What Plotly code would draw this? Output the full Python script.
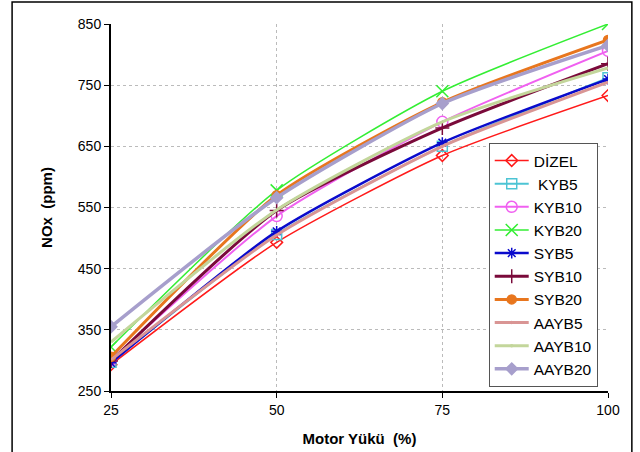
import plotly.graph_objects as go

loads = [25, 50, 75, 100]
series_names = ["DİZEL", " KYB5", "KYB10", "KYB20", "SYB5", "SYB10", "SYB20", "AAYB5", "AAYB10", "AAYB20"]
dizel = [293, 493, 635, 733]
kyb5 = [297, 506, 650, 762]
kyb10 = [301, 536, 690, 806]
kyb20 = [322, 578, 740, 850]
syb5 = [296, 511, 656, 760]
syb10 = [299, 545, 680, 785]
syb20 = [306, 570, 722, 824]
aayb5 = [301, 505, 650, 755]
aayb10 = [330, 546, 690, 778]
aayb20 = [355, 566, 720, 815]
values = [dizel, kyb5, kyb10, kyb20, syb5, syb10, syb20, aayb5, aayb10, aayb20]

colors = ["#ff1a1a", "#4cc4d4", "#f060f0", "#33ee33", "#0a0acc", "#7a0a3a", "#e8761e", "#d99594", "#c3d69b", "#a79fcc"]
symbols = ["diamond-open", "square-open", "circle-open", "x-thin-open", "asterisk-open",
           "cross-thin-open", "circle", "circle", "circle", "diamond"]
msizes = [9, 10, 11, 12, 9, 10, 9, 0.1, 0.1, 9]
widths = [1.5, 2, 2, 1.5, 2.5, 3, 3, 3, 3, 3.5]

fig = go.Figure()
for name, v, c, s, ms, w in zip(series_names, values, colors, symbols, msizes, widths):
    fig.add_trace(go.Scatter(
        x=loads, y=v, name=name, mode="lines+markers",
        line=dict(color=c, width=w, shape="spline", smoothing=0.6),
        marker=dict(symbol=s, size=ms, color=c, line=dict(color=c, width=1.5)),
    ))

fig.update_layout(
    width=640, height=452,
    margin=dict(l=111, r=32, t=24, b=61, autoexpand=False),
    paper_bgcolor="white", plot_bgcolor="white",
    font=dict(family="Arial, Liberation Sans, sans-serif", size=14, color="black"),
    showlegend=True,
    legend=dict(x=0.76, y=0.676, xanchor="left", yanchor="top",
                bordercolor="#555555", borderwidth=1, bgcolor="white",
                font=dict(size=15.5), tracegroupgap=0, itemwidth=34),
    xaxis=dict(range=[25, 100], tickvals=loads, showgrid=True, gridcolor="#bbbbbb",
               griddash="dot", gridwidth=1, showline=True, linecolor="black", linewidth=2,
               ticks="outside", ticklen=5, tickcolor="black", zeroline=False, automargin=False,
               title=dict(text="<b>Motor Yükü  (%)</b>", font=dict(size=15), standoff=17)),
    yaxis=dict(range=[250, 850], tickvals=[250, 350, 450, 550, 650, 750, 850], showgrid=True,
               gridcolor="#bbbbbb", griddash="dot", gridwidth=1, showline=True,
               linecolor="black", linewidth=2, ticks="outside", ticklen=5, tickcolor="black",
               zeroline=False, automargin=False,
               title=dict(text="<b>NOx  (ppm)</b>", font=dict(size=15), standoff=22)),
    shapes=[dict(type="rect", xref="paper", yref="paper", x0=-0.199, x1=1.048, y0=-0.25, y1=1.06,
                 line=dict(color="black", width=1.5), fillcolor="rgba(0,0,0,0)", layer="above")],
)

fig.write_html("out.html", config={"displayModeBar": False},
               post_script="document.body.style.margin='0';document.body.style.overflow='hidden';")
